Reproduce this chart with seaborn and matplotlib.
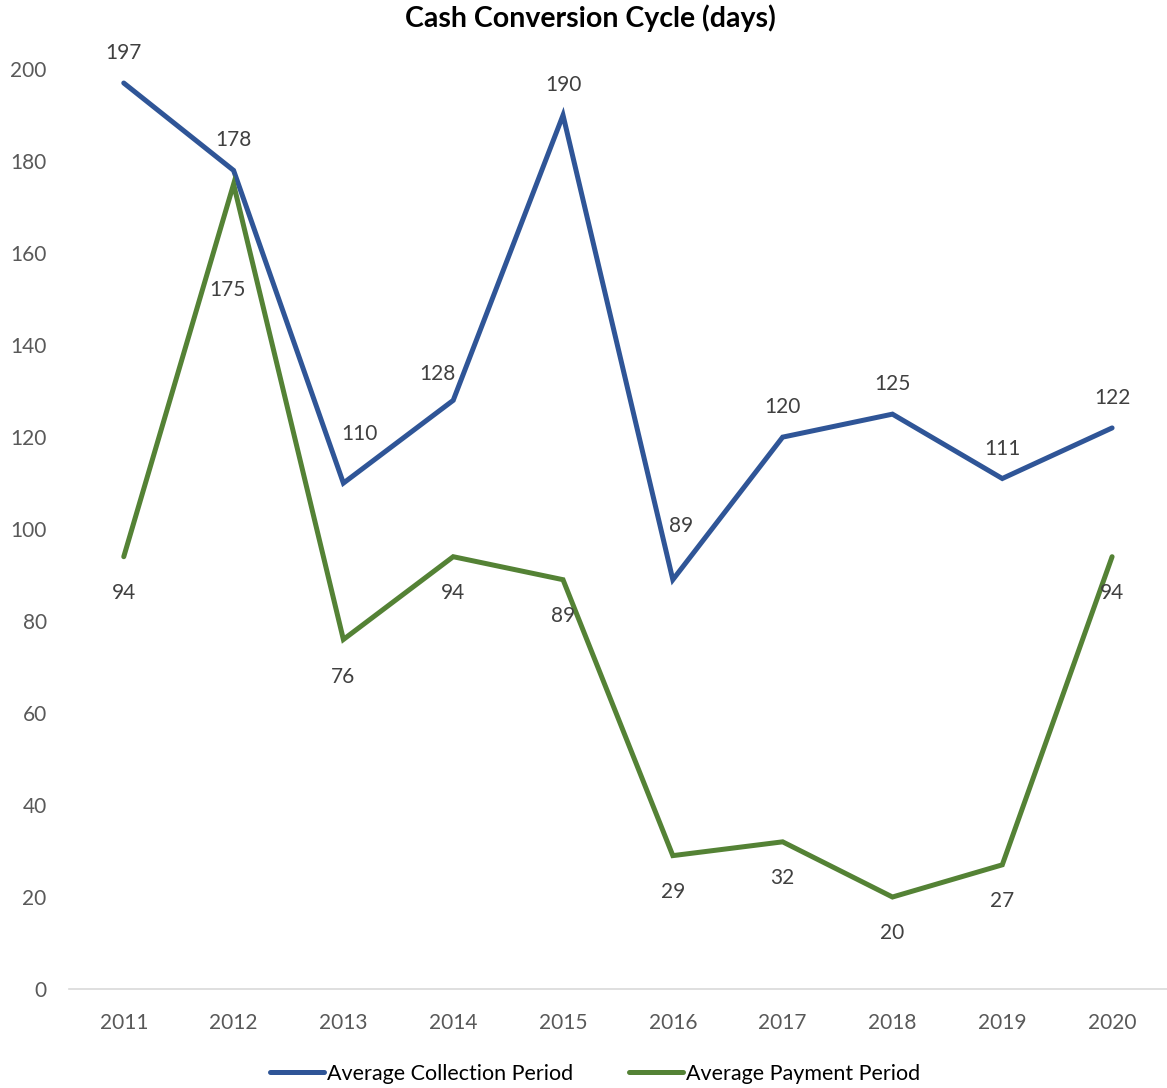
import matplotlib
matplotlib.use("Agg")
import matplotlib.pyplot as plt
import seaborn as sns
import pandas as pd

years = ["2011", "2012", "2013", "2014", "2015", "2016", "2017", "2018", "2019", "2020"]
collection_period = [197, 178, 110, 128, 190, 89, 120, 125, 111, 122]
payment_period = [94, 175, 76, 94, 89, 29, 32, 20, 27, 94]
series_names = ["Average Collection Period", "Average Payment Period"]
y_ticks = [0, 20, 40, 60, 80, 100, 120, 140, 160, 180, 200]

sns.set_theme(style="white")
plt.rcParams["font.family"] = ["Lato", "DejaVu Sans"]

df = pd.DataFrame({
    "year": years * 2,
    "days": collection_period + payment_period,
    "series": [series_names[0]] * len(years) + [series_names[1]] * len(years),
})

blue = "#2F5597"
green = "#548235"
label_color = "#404040"
tick_color = "#595959"

fig = plt.figure(figsize=(11.67, 10.88), dpi=100)
ax = fig.add_axes([0.059, 0.091, 0.941, 0.872])

sns.lineplot(data=df, x="year", y="days", hue="series", palette=[blue, green],
             linewidth=3.6, sort=False, ax=ax, legend=False)
for line in ax.get_lines():
    line.set_solid_joinstyle("miter")
    line.set_solid_capstyle("round")

ax.set_xlim(-0.5, len(years) - 0.5)
ax.set_ylim(0, 206.3)
ax.set_yticks(y_ticks)
ax.set_yticklabels([str(t) for t in y_ticks])
ax.set_xlabel("")
ax.set_ylabel("")
ax.tick_params(axis="both", length=0, labelsize=15, colors=tick_color)
ax.tick_params(axis="y", pad=16)
ax.tick_params(axis="x", pad=17)
for side in ["left", "right", "top"]:
    ax.spines[side].set_visible(False)
ax.spines["bottom"].set_color("#D9D9D9")
ax.spines["bottom"].set_linewidth(1.2)

# value labels: collection above the line, payment below;
# a few are nudged sideways so they clear the neighbouring segments
blue_offsets = {2: (16, 49), 3: (-16, 26), 5: (8, 54)}
for i, v in enumerate(collection_period):
    ax.annotate(str(v), (i, v), xytext=blue_offsets.get(i, (0, 30)),
                textcoords="offset pixels", ha="center", va="center",
                fontsize=15, color=label_color, annotation_clip=False)
green_offsets = {1: (-6, -106), 2: (0, -38)}
for i, v in enumerate(payment_period):
    ax.annotate(str(v), (i, v), xytext=green_offsets.get(i, (0, -36)),
                textcoords="offset pixels", ha="center", va="center",
                fontsize=15, color=label_color, annotation_clip=False)

fig.text(0.506, 0.983, "Cash Conversion Cycle (days)", ha="center", va="center",
         fontsize=20.5, fontweight="bold", color="black")

handles = [plt.Line2D([], [], color=blue, linewidth=3.6, solid_capstyle="round"),
           plt.Line2D([], [], color=green, linewidth=3.6, solid_capstyle="round")]
fig.legend(handles, series_names, loc="center", bbox_to_anchor=(0.51, 0.013),
           ncol=2, frameon=False, fontsize=15.5, handlelength=2.5,
           handletextpad=0.15, columnspacing=2.6, labelcolor="black")

fig.savefig("out.png", dpi=100)
